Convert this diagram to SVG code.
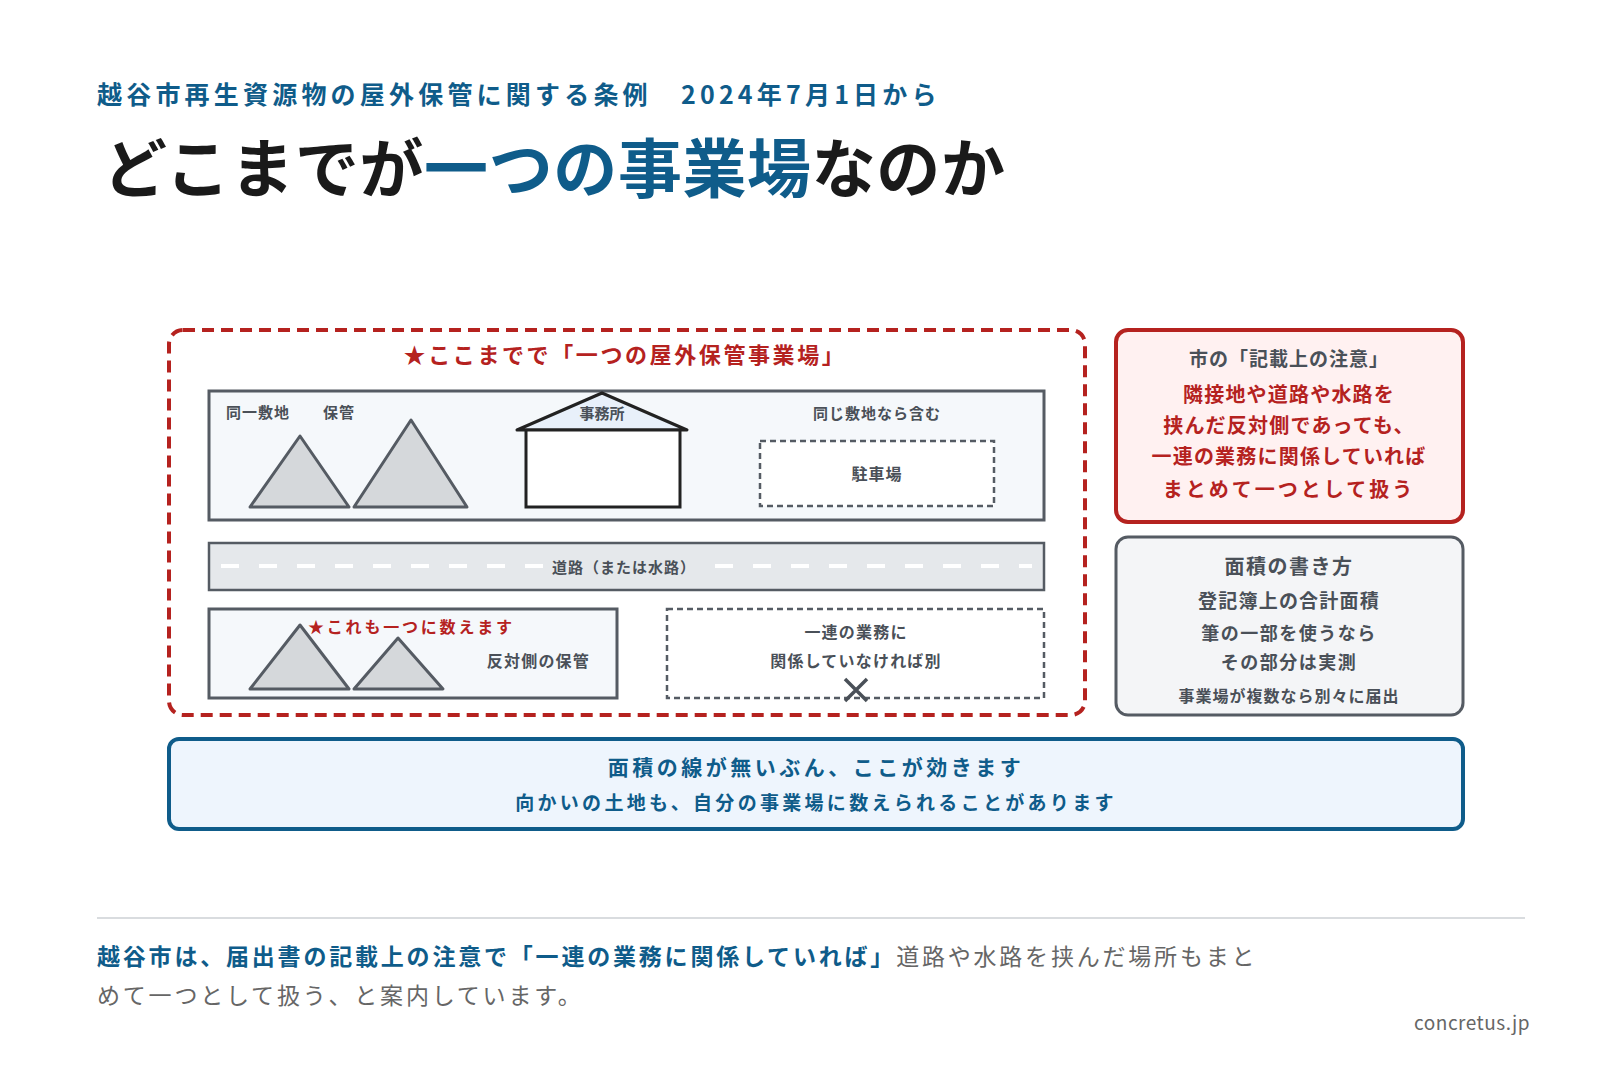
<svg xmlns="http://www.w3.org/2000/svg" width="1620" height="1080" viewBox="0 0 1620 1080">
<style>
text{font-family:"Noto Sans CJK JP","Noto Sans",sans-serif;dominant-baseline:central}
.c{text-anchor:middle}
.g{fill:#4a5058}
.r{fill:#b5221f}
.b{fill:#0f5c8a}
.tri{fill:#d5d8db;stroke:#555b63;stroke-width:3;stroke-linejoin:round}
.site{fill:#f5f8fb;stroke:#555b63;stroke-width:3}
.dash{fill:#fff;stroke:#555b63;stroke-width:2.5;stroke-dasharray:6 4}
</style>
<rect width="1620" height="1080" fill="#fff"/>
<g id="header">
<text x="97" y="93" font-size="25" font-weight="700" class="b" letter-spacing="4.2">越谷市再生資源物の屋外保管に関する条例　2024年7月1日から</text>
<text x="103" y="164" font-size="64" font-weight="700" fill="#1a1a1a" letter-spacing="0.6">どこまでが<tspan class="b">一つの事業場</tspan>なのか</text>
</g>
<g id="business-site">
<rect x="169" y="330" width="916" height="385" rx="14" fill="none" stroke="#b5221f" stroke-width="4" stroke-dasharray="12 7"/>
<text x="625" y="353" font-size="22" font-weight="700" class="r c" letter-spacing="2.6">★ここまでで「一つの屋外保管事業場」</text>
</g>
<g id="same-site">
<rect x="209" y="391" width="835" height="129" class="site"/>
<text x="226" y="411" font-size="15" font-weight="700" class="g" letter-spacing="1">同一敷地</text>
<text x="323" y="411" font-size="15" font-weight="700" class="g" letter-spacing="1">保管</text>
<polygon points="250,507 300,436 349,507" class="tri"/>
<polygon points="354,507 411,420 467,507" class="tri"/>
</g>
<g id="office">
<polygon points="517,430 602,393 687,430" fill="#e8f0fa" stroke="#222" stroke-width="3" stroke-linejoin="round"/>
<rect x="526" y="430" width="154" height="77" fill="#fff" stroke="#222" stroke-width="3"/>
<text x="602" y="412" font-size="15" font-weight="700" class="g c">事務所</text>
</g>
<g id="parking">
<text x="877" y="412" font-size="15" font-weight="700" class="g c" letter-spacing="1">同じ敷地なら含む</text>
<rect x="760" y="441" width="234" height="65" class="dash"/>
<text x="877" y="473" font-size="16" font-weight="700" class="g c" letter-spacing="1">駐車場</text>
</g>
<g id="road">
<rect x="209" y="543" width="835" height="47" fill="#e5e8eb" stroke="#555b63" stroke-width="2.5"/>
<line x1="221" y1="566" x2="1032" y2="566" stroke="#fff" stroke-width="4" stroke-dasharray="18 20"/>
<rect x="544" y="555" width="160" height="22" fill="#e5e8eb"/>
<text x="624" y="566" font-size="15" font-weight="700" class="g c" letter-spacing="1">道路（または水路）</text>
</g>
<g id="opposite">
<rect x="209" y="609" width="408" height="89" class="site"/>
<polygon points="250,689 300,625 349,689" class="tri"/>
<polygon points="354,689 398,638 443,689" class="tri"/>
<text x="308" y="626" font-size="16" font-weight="700" class="r" letter-spacing="2.8">★これも一つに数えます</text>
<text x="590" y="660" font-size="16" font-weight="700" class="g" text-anchor="end" letter-spacing="1.2">反対側の保管</text>
</g>
<g id="separate">
<rect x="667" y="609" width="377" height="89" class="dash"/>
<text x="856" y="631" font-size="16" font-weight="700" class="g c" letter-spacing="1.2">一連の業務に</text>
<text x="856" y="660" font-size="16" font-weight="700" class="g c" letter-spacing="1.2">関係していなければ別</text>
<path d="M845,679 L867,701 M867,679 L845,701" stroke="#4a5058" stroke-width="3.5"/>
</g>
<g id="note">
<rect x="1116" y="330" width="347" height="192" rx="12" fill="#fff1f1" stroke="#b5221f" stroke-width="4"/>
<text x="1289" y="357" font-size="19" font-weight="700" class="g c" letter-spacing="1">市の「記載上の注意」</text>
<text x="1289" y="393" font-size="20" font-weight="700" class="r c" letter-spacing="1.2">隣接地や道路や水路を</text>
<text x="1289" y="424" font-size="20" font-weight="700" class="r c" letter-spacing="1.2">挟んだ反対側であっても、</text>
<text x="1289" y="455" font-size="20" font-weight="700" class="r c" letter-spacing="1.2">一連の業務に関係していれば</text>
<text x="1289" y="488" font-size="20" font-weight="700" class="r c" letter-spacing="3">まとめて一つとして扱う</text>
</g>
<g id="area">
<rect x="1116" y="537" width="347" height="178" rx="12" fill="#f4f5f7" stroke="#555b63" stroke-width="3"/>
<text x="1289" y="565" font-size="20" font-weight="700" class="g c" letter-spacing="1.5">面積の書き方</text>
<text x="1289" y="599" font-size="19" font-weight="700" class="g c" letter-spacing="1.2">登記簿上の合計面積</text>
<text x="1289" y="632" font-size="18" font-weight="700" class="g c" letter-spacing="1.5">筆の一部を使うなら</text>
<text x="1289" y="661" font-size="18" font-weight="700" class="g c" letter-spacing="1.5">その部分は実測</text>
<text x="1289" y="695" font-size="16" font-weight="700" class="g c" letter-spacing="1">事業場が複数なら別々に届出</text>
</g>
<g id="summary">
<rect x="169" y="739" width="1294" height="90" rx="10" fill="#eef5fd" stroke="#0f5c8a" stroke-width="4"/>
<text x="816" y="766" font-size="21" font-weight="700" class="b c" letter-spacing="3.5">面積の線が無いぶん、ここが効きます</text>
<text x="816" y="801" font-size="19" font-weight="700" class="b c" letter-spacing="3.3">向かいの土地も、自分の事業場に数えられることがあります</text>
</g>
<g id="footer">
<line x1="97" y1="918" x2="1525" y2="918" stroke="#d9dcdf" stroke-width="2"/>
<text x="97" y="955" font-size="23" letter-spacing="2.8"><tspan class="b" font-weight="700">越谷市は、届出書の記載上の注意で「一連の業務に関係していれば」</tspan><tspan fill="#666">道路や水路を挟んだ場所もまと</tspan></text>
<text x="97" y="994" font-size="23" fill="#666" letter-spacing="2.8">めて一つとして扱う、と案内しています。</text>
<text x="1530" y="1021" font-size="19" fill="#666" text-anchor="end" font-family="Roboto,sans-serif" letter-spacing="0.5">concretus.jp</text>
</g>
</svg>
